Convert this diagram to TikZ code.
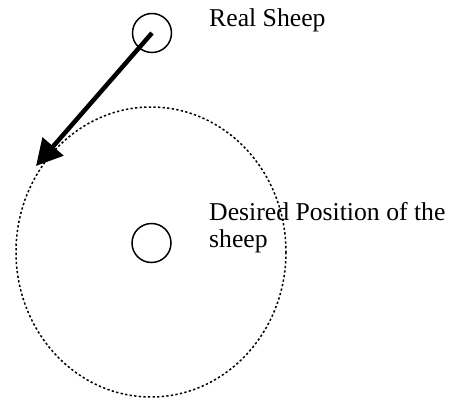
\documentclass[tikz,border=0pt]{standalone}
\usepackage{fontspec}
\setmainfont{Liberation Serif}
\usetikzlibrary{arrows.meta}
\begin{document}
\begin{tikzpicture}[x=1pt,y=-1pt,
  sheep/.style={draw=black,circle,line width=1.5pt,minimum size=39pt,inner sep=0pt},
  zone/.style={draw=black,line width=1.5pt,dash pattern=on 2.3pt off 2.3pt},
  lbl/.style={font=\fontsize{25.7}{26.5}\selectfont,inner sep=0pt,align=left},
  move/.style={line width=4.5pt,-{Triangle[length=26pt,width=27pt]}}]
\useasboundingbox (0,0) rectangle (452,399);
\draw[zone] (151,252) ellipse [x radius=135, y radius=145];
\node[sheep] (real) at (152,33) {};
\node[sheep] (desired) at (151.5,243) {};
\coordinate (tip) at (36,166);
\draw[move] (real.center) -- (tip);
\node[lbl,anchor=base west] (reallbl) at (209,26) {Real Sheep};
\node[lbl,anchor=north west] (desiredlbl) at (209,202.5) {Desired Position of the\\sheep};
\end{tikzpicture}
\end{document}
